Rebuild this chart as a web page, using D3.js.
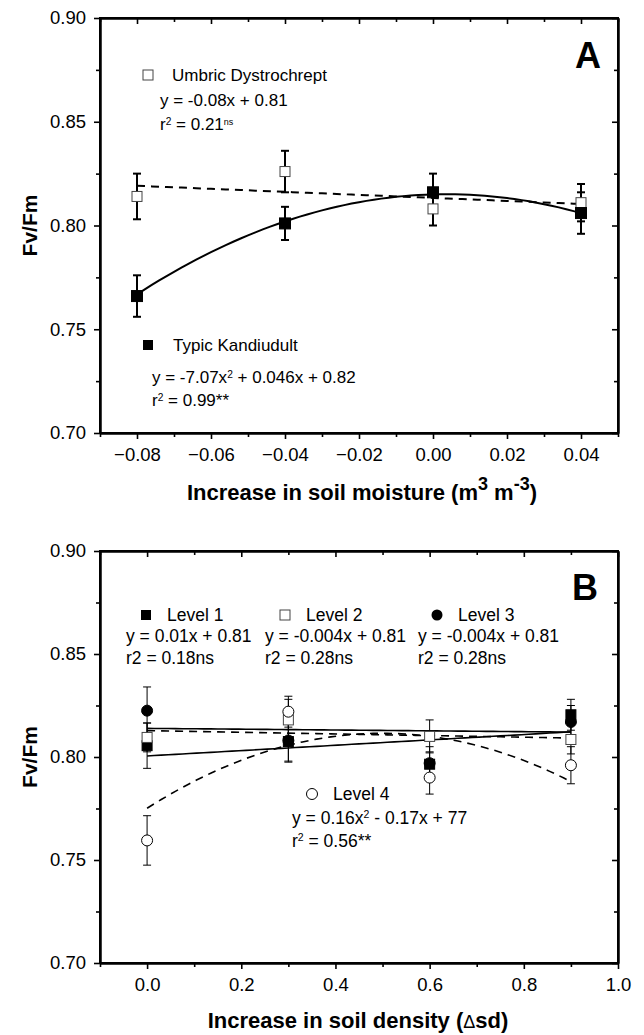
<!DOCTYPE html>
<html>
<head>
<meta charset="utf-8" />
<title>Fv/Fm</title>
<script src="https://cdnjs.cloudflare.com/ajax/libs/d3/7.8.5/d3.min.js"></script>
<style>
  body { margin: 0; background: #fff; }
  svg { font-family: "Liberation Sans", Arial, sans-serif; }
</style>
</head>
<body>
<svg id="chart" width="644" height="1035"></svg>
<script>
// ---- panel A : soil moisture ----
const moistX = [-0.08, -0.04, 0.00, 0.04]
const umbricY = [0.814, 0.826, 0.808, 0.811]
const umbricErr = [0.011, 0.010, 0.008, 0.009]
const kandiY = [0.766, 0.801, 0.816, 0.806]
const kandiErr = [0.010, 0.008, 0.009, 0.010]
const umbricFit = [-0.073, 0.8133]        // slope, intercept
const kandiFit = [-6.9, 0.05, 0.815]      // a, b, c
const moistTicks = [-0.08, -0.06, -0.04, -0.02, 0.00, 0.02, 0.04]
const moistMinor = [-0.09, -0.07, -0.05, -0.03, -0.01, 0.01, 0.03, 0.05]

// ---- panel B : soil density ----
const densX = [0, 0.3, 0.6, 0.9]
const level1Y = [0.8055, 0.8075, 0.7965, 0.8205]
const level1Err = [0.011, 0.010, 0.006, 0.0075]
const level2Y = [0.8095, 0.818, 0.810, 0.8085]
const level2Err = [0.007, 0.010, 0.008, 0.007]
const level3Y = [0.8225, 0.808, 0.797, 0.817]
const level3Err = [0.0115, 0.010, 0.008, 0.008]
const level4Y = [0.7595, 0.822, 0.790, 0.796]
const level4Err = [0.012, 0.0075, 0.008, 0.009]
const level1Fit = [0.013, 0.8005]
const level2Fit = [-0.004, 0.8128]
const level3Fit = [-0.002, 0.8139]
const level4Fit = [-0.146, 0.1458, 0.7751]
const densTicks = [0, 0.2, 0.4, 0.6, 0.8, 1.0]
const densMinor = [-0.1, 0.1, 0.3, 0.5, 0.7, 0.9]

const yTicks = [0.70, 0.75, 0.80, 0.85, 0.90]
const yMinor = [0.725, 0.775, 0.825, 0.875]

const svg = d3.select('#chart')
const left = 100, right = 618

function frame(x, y, xMaj, xMin, xFmt) {
  const g = svg.append('g')
  const b = y.range()[0], t = y.range()[1]
  g.append('g').attr('transform', `translate(0,${b})`)
    .call(d3.axisBottom(x).tickValues(xMaj).tickSize(6).tickSizeOuter(0).tickPadding(9).tickFormat(xFmt))
  g.append('g').attr('transform', `translate(0,${b})`)
    .call(d3.axisBottom(x).tickValues(xMin).tickSize(4).tickSizeOuter(0).tickFormat(''))
  g.append('g').attr('transform', `translate(0,${t})`)
    .call(d3.axisTop(x).tickValues(xMaj).tickSize(-6).tickSizeOuter(0).tickFormat(''))
  g.append('g').attr('transform', `translate(0,${t})`)
    .call(d3.axisTop(x).tickValues(xMin).tickSize(-4).tickSizeOuter(0).tickFormat(''))
  g.append('g').attr('transform', `translate(${left},0)`)
    .call(d3.axisLeft(y).tickValues(yTicks).tickSize(6).tickSizeOuter(0).tickPadding(8).tickFormat(d3.format('.2f')))
  g.append('g').attr('transform', `translate(${left},0)`)
    .call(d3.axisLeft(y).tickValues(yMinor).tickSize(4).tickSizeOuter(0).tickFormat(''))
  g.append('g').attr('transform', `translate(${right},0)`)
    .call(d3.axisRight(y).tickValues(yTicks).tickSize(-6).tickSizeOuter(0).tickFormat(''))
  g.append('g').attr('transform', `translate(${right},0)`)
    .call(d3.axisRight(y).tickValues(yMinor).tickSize(-4).tickSizeOuter(0).tickFormat(''))
  g.selectAll('.domain').attr('stroke', '#000').attr('stroke-width', 2)
  g.selectAll('.tick line').attr('stroke', '#000').attr('stroke-width', 1.6)
  g.selectAll('.tick text').attr('font-size', 18.5).attr('fill', '#000')
    .attr('font-family', '"Liberation Sans", Arial, sans-serif')
  g.append('rect').attr('x', left).attr('y', t).attr('width', right - left).attr('height', b - t)
    .attr('fill', 'none').attr('stroke', '#000').attr('stroke-width', 2)
}

function errBars(g, x, y, xs, ys, es, w, cap) {
  xs.forEach((d, i) => {
    const cx = x(d), y0 = y(ys[i] - es[i]), y1 = y(ys[i] + es[i])
    g.append('line').attr('x1', cx).attr('x2', cx).attr('y1', y0).attr('y2', y1)
      .attr('stroke', '#000').attr('stroke-width', w)
    ;[y0, y1].forEach(yy => g.append('line').attr('x1', cx - cap).attr('x2', cx + cap)
      .attr('y1', yy).attr('y2', yy).attr('stroke', '#000').attr('stroke-width', w))
  })
}

function squares(g, x, y, xs, ys, filled, s) {
  g.selectAll(null).data(xs).enter().append('rect')
    .attr('x', d => x(d) - s / 2).attr('y', (d, i) => y(ys[i]) - s / 2)
    .attr('width', s).attr('height', s)
    .attr('fill', filled ? '#000' : '#fff').attr('stroke', filled ? '#000' : '#444').attr('stroke-width', 1)
}

function circles(g, x, y, xs, ys, filled, r) {
  g.selectAll(null).data(xs).enter().append('circle')
    .attr('cx', d => x(d)).attr('cy', (d, i) => y(ys[i])).attr('r', r)
    .attr('fill', filled ? '#000' : '#fff').attr('stroke', '#000').attr('stroke-width', 1)
}

function fitLine(g, x, y, f, x0, x1, w, dash) {
  const pts = d3.range(0, 61).map(k => { const xx = x0 + (x1 - x0) * k / 60; return [xx, f(xx)] })
  g.append('path').attr('d', d3.line().x(d => x(d[0])).y(d => y(d[1]))(pts))
    .attr('fill', 'none').attr('stroke', '#000').attr('stroke-width', w)
    .attr('stroke-dasharray', dash ? '8,6' : null)
}

function label(x, y, parts, size) {
  const t = svg.append('text').attr('x', x).attr('y', y).attr('font-size', size).attr('fill', '#000')
  parts.forEach(p => {
    if (typeof p === 'string') t.append('tspan').text(p)
    else t.append('tspan').attr('baseline-shift', p.shift || 'super').attr('font-size', p.size || size * 0.6).text(p.t)
  })
  return t
}

// ================= Panel A =================
const xA = d3.scaleLinear().domain([-0.09, 0.05]).range([left, right])
const yA = d3.scaleLinear().domain([0.70, 0.90]).range([433, 18])
frame(xA, yA, moistTicks, moistMinor, d3.format('.2f'))

const gA = svg.append('g')
fitLine(gA, xA, yA, v => umbricFit[0] * v + umbricFit[1], -0.08, 0.04, 2, true)
fitLine(gA, xA, yA, v => kandiFit[0] * v * v + kandiFit[1] * v + kandiFit[2], -0.08, 0.04, 2, false)
errBars(gA, xA, yA, moistX, umbricY, umbricErr, 2, 4)
errBars(gA, xA, yA, moistX, kandiY, kandiErr, 2, 4)
squares(gA, xA, yA, moistX, umbricY, false, 10)
squares(gA, xA, yA, moistX, kandiY, true, 11)

svg.append('rect').attr('x', 143).attr('y', 70).attr('width', 10).attr('height', 10)
  .attr('fill', '#fff').attr('stroke', '#444')
label(172, 81, ['Umbric Dystrochrept'], 17)
label(160, 106, ['y = -0.08x + 0.81'], 17)
label(160, 130, ['r', { t: '2' }, ' = 0.21', { t: 'ns', size: 9 }], 17)
svg.append('rect').attr('x', 143).attr('y', 340).attr('width', 10).attr('height', 10).attr('fill', '#000')
label(173, 351, ['Typic Kandiudult'], 17)
label(152, 383, ['y = -7.07x', { t: '2' }, ' + 0.046x + 0.82'], 17)
label(152, 406, ['r', { t: '2' }, ' = 0.99**'], 17)
svg.append('text').attr('x', 601).attr('y', 68).attr('text-anchor', 'end')
  .attr('font-size', 36).attr('font-weight', 'bold').text('A')

label(362, 500, ['Increase in soil moisture (m', { t: '3', size: 18 }, ' m', { t: '-3', size: 18 }, ')'], 22)
  .attr('text-anchor', 'middle').attr('font-weight', 'bold')
svg.append('text').attr('transform', `translate(37,${(433 + 18) / 2}) rotate(-90)`)
  .attr('text-anchor', 'middle').attr('font-size', 21).attr('font-weight', 'bold').text('Fv/Fm')

// ================= Panel B =================
const xB = d3.scaleLinear().domain([-0.1, 1.0]).range([left, right])
const yB = d3.scaleLinear().domain([0.70, 0.90]).range([963, 551])
frame(xB, yB, densTicks, densMinor, d3.format('.1f'))

const gB = svg.append('g')
fitLine(gB, xB, yB, v => level1Fit[0] * v + level1Fit[1], 0, 0.9, 1.6, false)
fitLine(gB, xB, yB, v => level2Fit[0] * v + level2Fit[1], 0, 0.9, 1.6, true)
fitLine(gB, xB, yB, v => level3Fit[0] * v + level3Fit[1], 0, 0.9, 1.6, false)
fitLine(gB, xB, yB, v => level4Fit[0] * v * v + level4Fit[1] * v + level4Fit[2], 0, 0.9, 1.6, true)
errBars(gB, xB, yB, densX, level1Y, level1Err, 1, 4)
errBars(gB, xB, yB, densX, level2Y, level2Err, 1, 4)
errBars(gB, xB, yB, densX, level3Y, level3Err, 1, 4)
errBars(gB, xB, yB, densX, level4Y, level4Err, 1, 4)
circles(gB, xB, yB, densX, level3Y, true, 5.5)
squares(gB, xB, yB, densX, level1Y, true, 10)
squares(gB, xB, yB, densX, level2Y, false, 10)
circles(gB, xB, yB, densX, level4Y, false, 5.5)

svg.append('rect').attr('x', 141).attr('y', 610).attr('width', 10).attr('height', 10).attr('fill', '#000')
label(167, 621, ['Level 1'], 17.5)
label(126, 642, ['y = 0.01x + 0.81'], 17.5)
label(126, 664, ['r2 = 0.18ns'], 17.5)
svg.append('rect').attr('x', 280).attr('y', 610).attr('width', 10).attr('height', 10)
  .attr('fill', '#fff').attr('stroke', '#444')
label(306, 621, ['Level 2'], 17.5)
label(265, 642, ['y = -0.004x + 0.81'], 17.5)
label(265, 664, ['r2 = 0.28ns'], 17.5)
svg.append('circle').attr('cx', 437).attr('cy', 615).attr('r', 5.5).attr('fill', '#000')
label(458, 621, ['Level 3'], 17.5)
label(418, 642, ['y = -0.004x + 0.81'], 17.5)
label(418, 664, ['r2 = 0.28ns'], 17.5)
svg.append('circle').attr('cx', 312).attr('cy', 794).attr('r', 5.5).attr('fill', '#fff').attr('stroke', '#000')
label(333, 800, ['Level 4'], 17.5)
label(292, 824, ['y = 0.16x', { t: '2' }, ' - 0.17x + 77'], 17.5)
label(292, 847, ['r', { t: '2' }, ' = 0.56**'], 17.5)
svg.append('text').attr('x', 598).attr('y', 600).attr('text-anchor', 'end')
  .attr('font-size', 36).attr('font-weight', 'bold').text('B')

const tB = svg.append('text').attr('x', 358).attr('y', 1028).attr('text-anchor', 'middle')
  .attr('font-size', 22).attr('font-weight', 'bold')
tB.append('tspan').text('Increase in soil density (')
tB.append('tspan').attr('font-weight', 'normal').attr('font-size', 18).text('\u0394')
tB.append('tspan').text('sd)')
svg.append('text').attr('transform', `translate(37,${(963 + 551) / 2}) rotate(-90)`)
  .attr('text-anchor', 'middle').attr('font-size', 21).attr('font-weight', 'bold').text('Fv/Fm')
</script>
</body>
</html>
